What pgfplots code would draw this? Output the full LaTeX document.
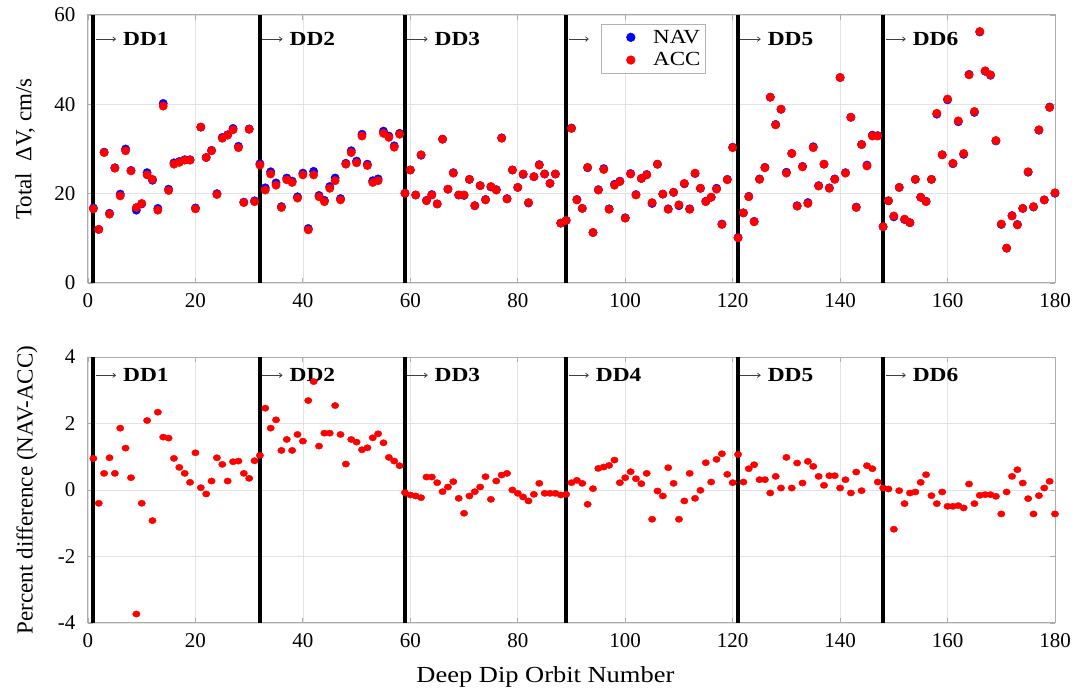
\documentclass[border=0pt]{standalone}
\usepackage{pgfplots}
\pgfplotsset{compat=1.18}
\usepackage{pgfplotstable}
\usepackage{fontspec}
\setmainfont{Liberation Serif}
\usetikzlibrary{arrows.meta}

\pgfplotstableread{
orbit nav acc pct
1 16.8 16.6 0.95
2 12.0 12.0 -0.40
3 29.3 29.2 0.50
4 15.6 15.4 0.97
5 25.8 25.7 0.50
6 19.9 19.5 1.86
7 30.0 29.6 1.26
8 25.2 25.1 0.37
9 16.3 16.9 -3.73
10 17.7 17.8 -0.40
11 24.7 24.2 2.09
12 23.0 23.2 -0.92
13 16.7 16.3 2.34
14 40.2 39.6 1.59
15 21.0 20.7 1.56
16 26.9 26.6 0.95
17 27.2 27.0 0.68
18 27.6 27.5 0.50
19 27.6 27.5 0.23
20 16.8 16.6 1.12
21 34.9 34.9 0.07
22 28.1 28.1 -0.12
23 29.7 29.6 0.27
24 20.0 19.8 0.97
25 32.6 32.4 0.77
26 33.2 33.1 0.27
27 34.6 34.3 0.85
28 30.6 30.3 0.87
29 18.1 18.0 0.50
30 34.5 34.4 0.35
31 18.4 18.2 0.88
32 26.7 26.4 1.04
33 21.3 20.8 2.46
34 24.9 24.4 1.86
35 22.4 21.9 2.11
36 17.1 16.9 1.19
37 23.5 23.1 1.52
38 22.8 22.5 1.19
39 19.3 19.0 1.67
40 24.6 24.2 1.47
41 12.2 11.9 2.69
42 25.0 24.2 3.26
43 19.6 19.3 1.32
44 18.5 18.2 1.71
45 21.6 21.2 1.71
46 23.5 22.9 2.54
47 18.9 18.6 1.67
48 26.8 26.6 0.78
49 29.6 29.2 1.52
50 27.3 26.9 1.44
51 33.3 32.9 1.21
52 26.6 26.3 1.27
53 22.9 22.5 1.57
54 23.3 22.9 1.69
55 34.0 33.5 1.42
56 32.9 32.6 0.98
57 30.7 30.4 0.87
58 33.5 33.3 0.73
59 20.1 20.1 -0.08
60 25.3 25.3 -0.15
61 19.7 19.7 -0.18
62 28.6 28.7 -0.23
63 18.5 18.4 0.39
64 19.8 19.7 0.39
65 17.7 17.7 0.22
66 32.2 32.2 -0.05
67 21.0 21.0 0.09
68 24.7 24.6 0.25
69 19.7 19.7 -0.25
70 19.6 19.7 -0.70
71 23.2 23.2 -0.18
72 17.3 17.3 -0.05
73 21.8 21.8 0.09
74 18.7 18.6 0.40
75 21.5 21.6 -0.28
76 20.9 20.8 0.27
77 32.5 32.4 0.45
78 18.9 18.8 0.50
79 25.3 25.3 0.00
80 21.4 21.4 -0.10
81 24.3 24.4 -0.21
82 17.9 18.0 -0.33
83 23.8 23.8 -0.13
84 26.5 26.4 0.20
85 24.4 24.4 -0.10
86 22.3 22.3 -0.10
87 24.4 24.4 -0.10
88 13.4 13.4 -0.15
89 14.0 14.0 -0.13
90 34.7 34.6 0.22
91 18.7 18.6 0.29
92 16.7 16.7 0.20
93 25.8 25.9 -0.43
94 11.3 11.3 0.04
95 20.9 20.8 0.65
96 25.6 25.4 0.69
97 16.6 16.5 0.74
98 22.1 21.9 0.90
99 22.8 22.7 0.22
100 14.6 14.5 0.37
101 24.5 24.4 0.55
102 19.8 19.7 0.34
103 23.4 23.4 0.19
104 24.3 24.2 0.50
105 17.8 18.0 -0.88
106 26.6 26.6 -0.03
107 19.9 19.9 -0.18
108 16.6 16.5 0.67
109 20.3 20.3 0.20
110 17.3 17.5 -0.88
111 22.2 22.3 -0.33
112 16.6 16.5 0.50
113 24.5 24.6 -0.25
114 21.2 21.2 -0.01
115 18.3 18.2 0.82
116 19.2 19.2 0.24
117 21.2 21.0 0.92
118 13.2 13.1 1.09
119 23.2 23.1 0.47
120 30.4 30.3 0.22
121 10.2 10.1 1.07
122 15.7 15.7 0.24
123 19.4 19.3 0.64
124 13.8 13.7 0.76
125 23.3 23.2 0.31
126 25.9 25.8 0.31
127 41.6 41.6 -0.09
128 35.5 35.4 0.41
129 38.9 38.9 0.06
130 24.8 24.6 0.98
131 29.0 29.0 0.06
132 17.3 17.2 0.81
133 26.1 26.0 0.21
134 18.0 17.8 0.86
135 30.5 30.3 0.71
136 21.8 21.7 0.41
137 26.6 26.6 0.14
138 21.3 21.2 0.43
139 23.3 23.2 0.43
140 46.0 46.0 0.06
141 24.7 24.6 0.31
142 37.1 37.1 -0.09
143 17.0 16.9 0.54
144 31.0 31.0 -0.02
145 26.4 26.2 0.73
146 33.1 32.9 0.64
147 33.0 32.9 0.24
148 12.6 12.6 0.06
149 18.4 18.4 0.03
150 14.8 15.0 -1.18
151 21.4 21.4 -0.02
152 14.2 14.3 -0.41
153 13.5 13.5 -0.09
154 23.2 23.2 -0.06
155 19.2 19.2 0.23
156 18.3 18.2 0.46
157 23.2 23.2 -0.17
158 37.8 38.0 -0.41
159 28.7 28.7 -0.06
160 41.0 41.2 -0.49
161 26.7 26.8 -0.49
162 36.1 36.3 -0.47
163 28.8 29.0 -0.54
164 46.7 46.6 0.18
165 38.2 38.4 -0.41
166 56.2 56.3 -0.16
167 47.4 47.5 -0.14
168 46.5 46.6 -0.14
169 31.8 31.9 -0.19
170 13.1 13.2 -0.72
171 7.8 7.8 -0.06
172 15.1 15.0 0.41
173 13.1 13.0 0.61
174 16.7 16.7 0.21
175 24.8 24.9 -0.26
176 17.0 17.1 -0.72
177 34.2 34.3 -0.17
178 18.6 18.6 0.06
179 39.4 39.3 0.26
180 20.1 20.2 -0.72
}\data

\newcommand\ddlab[3]{%
  \draw[black!75, line width=0.8pt, -{To[length=3.5pt,width=5pt]}] (axis cs:#1+0.45,#3) -- (axis cs:#1+4.2,#3);
  \node[anchor=west, inner sep=0pt] at (axis cs:#1+5.5,#3) {\fontsize{20}{22}\selectfont\scalebox{1.17}[1]{\textbf{DD#2}}};}

\pgfplotsset{
  dipstyle/.style={
    scale only axis, width=967pt, xmin=0, xmax=180, xtick={0,20,...,180},
    grid=major, major grid style={gray!22, line width=0.6pt},
    axis line style={gray!65, line width=1pt},
    tick style={gray!65, line width=0.8pt}, major tick length=5pt,
    tick label style={font=\fontsize{21}{24}\selectfont},
    /pgf/number format/assume math mode=true,
    xticklabel style={yshift=-7pt},
    yticklabel style={xshift=-9pt},
    label style={font=\fontsize{23}{26}\selectfont},
  }
}

\begin{document}
\begin{tikzpicture}[x=1pt,y=1pt]
\path[use as bounding box] (0,0) rectangle (1088,690);

% ---------------- top panel ----------------
\begin{axis}[dipstyle,
  at={(88pt,407pt)}, anchor=south west, height=268pt,
  ymin=0, ymax=60, ytick={0,20,40,60},
  ylabel={Total~~ΔV, cm/s},
  ylabel style={at={(axis description cs:-0.065,0.5)}, anchor=center},
  legend style={at={(axis description cs:0.639,0.968)}, anchor=north east,
    draw=gray!60, line width=0.8pt, fill=white, font=\fontsize{20}{22}\selectfont,
    row sep=4pt, inner xsep=3pt, inner ysep=4pt},
  legend cell align=left,
  legend image code/.code={\path (0pt,-3pt) (46pt,3pt); \path[only marks,#1] plot coordinates {(26pt,0pt)};},
]
\addplot[only marks, mark=*, mark size=4.2pt, color=blue, mark options={draw=blue, fill=blue}] table[x=orbit, y=nav] {\data};
\addplot[only marks, mark=*, mark size=4.2pt, color=red, mark options={draw=red, fill=red}] table[x=orbit, y=acc] {\data};
\pgfplotsinvokeforeach{1,32,59,89,121,148}{
  \addplot[black, line width=4pt, forget plot] coordinates {(#1,0) (#1,60)};
}
\ddlab{1}{1}{54.6}
\ddlab{32}{2}{54.6}
\ddlab{59}{3}{54.6}
\draw[black!75, line width=0.8pt, -{To[length=3.5pt,width=5pt]}] (axis cs:89.45,54.6) -- (axis cs:93.2,54.6);
\ddlab{121}{5}{54.6}
\ddlab{148}{6}{54.6}
\legend{\scalebox{1.15}[1]{NAV}, \scalebox{1.15}[1]{ACC}}
\end{axis}

% ---------------- bottom panel ----------------
\begin{axis}[dipstyle,
  at={(88pt,67pt)}, anchor=south west, height=266pt,
  ymin=-4, ymax=4, ytick={-4,-2,0,2,4},
  ylabel={Percent difference (NAV-ACC)},
  ylabel style={at={(axis description cs:-0.063,0.5)}, anchor=center},
  xlabel={\scalebox{1.15}[1]{Deep Dip Orbit Number}},
  xlabel style={at={(axis description cs:0.473,-0.203)}, anchor=center},
]
\addplot[only marks, mark=*, mark size=3.7pt, color=red, mark options={draw=red, fill=red, yscale=0.85}] table[x=orbit, y=pct] {\data};
\pgfplotsinvokeforeach{1,32,59,89,121,148}{
  \addplot[black, line width=4pt, forget plot] coordinates {(#1,-4) (#1,4)};
}
\ddlab{1}{1}{3.45}
\ddlab{32}{2}{3.45}
\ddlab{59}{3}{3.45}
\ddlab{89}{4}{3.45}
\ddlab{121}{5}{3.45}
\ddlab{148}{6}{3.45}
\end{axis}
\end{tikzpicture}
\end{document}
